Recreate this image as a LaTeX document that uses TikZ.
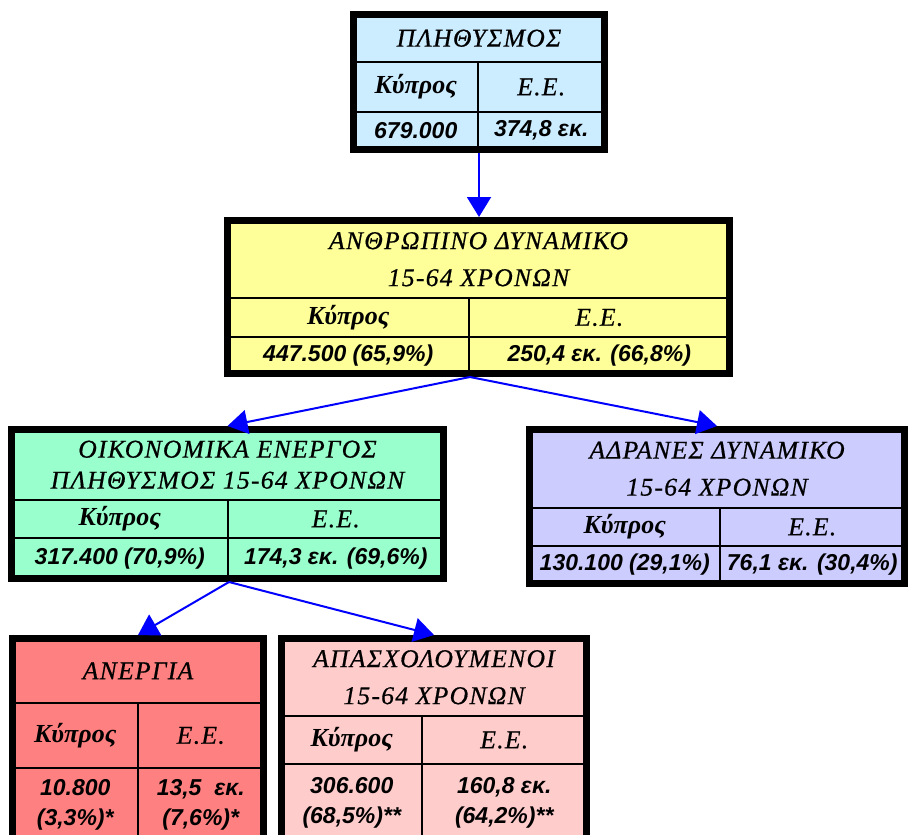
\documentclass[tikz,border=0pt]{standalone}
\usepackage{fontspec}
\setmainfont{Liberation Serif}
\newfontfamily\headfont[LetterSpace=5,FakeBold=0.6]{Liberation Serif}
\newfontfamily\numfont{Liberation Sans}
\usetikzlibrary{fit,arrows.meta}
\definecolor{popblue}{RGB}{204,236,255}
\definecolor{humyellow}{RGB}{255,255,153}
\definecolor{ecogreen}{RGB}{153,255,204}
\definecolor{inalilac}{RGB}{204,204,255}
\definecolor{unered}{RGB}{255,128,128}
\definecolor{emppink}{RGB}{255,204,204}
\definecolor{arrowblue}{RGB}{0,0,255}
\newcommand\cellnode[6][cell]{
  \node[
    #1,
    fit={(#2) (#3)},
    label={[#4]center:{#5}}] (#6) {};
}

\begin{document}
\begin{tikzpicture}[
    x=0.5pt,y=-0.5pt,
    cell/.style={draw=black, line width=1pt, inner sep=0pt, fill=#1},
    cell/.default=white,
    frame/.style={draw=black, line width=3.5pt, inner sep=0pt},
    headtext/.style={font={\headfont\itshape\fontsize{12.8}{18.5}\selectfont}, align=center},
    headtight/.style={headtext, font={\headfont\itshape\fontsize{12.8}{15.5}\selectfont}},
    keytext/.style={font={\bfseries\itshape\fontsize{13}{15}\selectfont}},
    numtext/.style={font={\numfont\bfseries\itshape\fontsize{11.5}{15}\selectfont}, align=center},
    link/.style={draw=arrowblue, line width=1pt, -{Triangle[length=10pt,width=12pt]}}]

    \useasboundingbox (0,0) rectangle (908,834);
    \clip (0,0) rectangle (908,834);

    % population
    \cellnode[cell=popblue]{353.5,14.5}{604.5,62}{headtext}{ΠΛΗΘΥΣΜΟΣ}{pop-h}
    \cellnode[cell=popblue]{353.5,62}{478,112}{keytext}{Κύπρος}{pop-kc}
    \cellnode[cell=popblue]{478,62}{604.5,112}{headtext}{Ε.Ε.}{pop-ke}
    \cellnode[cell=popblue]{353.5,112}{478,149.5}{numtext}{679.000}{pop-vc}
    \cellnode[cell=popblue]{478,112}{604.5,149.5}{numtext}{374,8 εκ.}{pop-ve}
    \node[frame, fit={(353.5,14.5) (604.5,149.5)}] (pop) {};

    % human potential
    \cellnode[cell=humyellow]{227.5,220.5}{729.5,298}{headtext}{ΑΝΘΡΩΠΙΝΟ ΔΥΝΑΜΙΚΟ\\15-64 ΧΡΟΝΩΝ}{hum-h}
    \cellnode[cell=humyellow]{227.5,298}{469,337}{keytext}{Κύπρος}{hum-kc}
    \cellnode[cell=humyellow]{469,298}{729.5,337}{headtext}{Ε.Ε.}{hum-ke}
    \cellnode[cell=humyellow]{227.5,337}{469,373.5}{numtext}{447.500 (65,9\%)}{hum-vc}
    \cellnode[cell=humyellow]{469,337}{729.5,373.5}{numtext}{250,4 εκ. (66,8\%)}{hum-ve}
    \node[frame, fit={(227.5,220.5) (729.5,373.5)}] (hum) {};

    % economically active
    \cellnode[cell=ecogreen]{11.5,429.5}{443.5,500}{headtight}{ΟΙΚΟΝΟΜΙΚΑ ΕΝΕΡΓΟΣ\\ΠΛΗΘΥΣΜΟΣ 15-64 ΧΡΟΝΩΝ}{eco-h}
    \cellnode[cell=ecogreen]{11.5,500}{228,538}{keytext}{Κύπρος}{eco-kc}
    \cellnode[cell=ecogreen]{228,500}{443.5,538}{headtext}{Ε.Ε.}{eco-ke}
    \cellnode[cell=ecogreen]{11.5,538}{228,578.5}{numtext}{317.400 (70,9\%)}{eco-vc}
    \cellnode[cell=ecogreen]{228,538}{443.5,578.5}{numtext}{174,3 εκ. (69,6\%)}{eco-ve}
    \node[frame, fit={(11.5,429.5) (443.5,578.5)}] (eco) {};

    % inactive
    \cellnode[cell=inalilac]{529.5,429.5}{904.5,508}{headtext}{ΑΔΡΑΝΕΣ ΔΥΝΑΜΙΚΟ\\15-64 ΧΡΟΝΩΝ}{ina-h}
    \cellnode[cell=inalilac]{529.5,508}{720,546}{keytext}{Κύπρος}{ina-kc}
    \cellnode[cell=inalilac]{720,508}{904.5,546}{headtext}{Ε.Ε.}{ina-ke}
    \cellnode[cell=inalilac]{529.5,546}{720,583.5}{numtext}{130.100 (29,1\%)}{ina-vc}
    \cellnode[cell=inalilac]{720,546}{904.5,583.5}{numtext}{76,1 εκ. (30,4\%)}{ina-ve}
    \node[frame, fit={(529.5,429.5) (904.5,583.5)}] (ina) {};

    % unemployment
    \cellnode[cell=unered]{12.5,638.5}{263.5,703}{headtext}{ΑΝΕΡΓΙΑ}{une-h}
    \cellnode[cell=unered]{12.5,703}{138,768}{keytext}{Κύπρος}{une-kc}
    \cellnode[cell=unered]{138,703}{263.5,768}{headtext}{Ε.Ε.}{une-ke}
    \cellnode[cell=unered]{12.5,768}{138,841.5}{numtext}{10.800\\(3,3\%)*}{une-vc}
    \cellnode[cell=unered]{138,768}{263.5,841.5}{numtext}{13,5\ \ εκ.\\(7,6\%)*}{une-ve}
    \node[frame, fit={(12.5,638.5) (263.5,841.5)}] (une) {};

    % employed
    \cellnode[cell=emppink]{281.5,638.5}{586.5,716}{headtext}{ΑΠΑΣΧΟΛΟΥΜΕΝΟΙ\\15-64 ΧΡΟΝΩΝ}{emp-h}
    \cellnode[cell=emppink]{281.5,716}{422,764}{keytext}{Κύπρος}{emp-kc}
    \cellnode[cell=emppink]{422,716}{586.5,764}{headtext}{Ε.Ε.}{emp-ke}
    \cellnode[cell=emppink]{281.5,764}{422,841.5}{numtext}{306.600\\(68,5\%)**}{emp-vc}
    \cellnode[cell=emppink]{422,764}{586.5,841.5}{numtext}{160,8 εκ.\\(64,2\%)**}{emp-ve}
    \node[frame, fit={(281.5,638.5) (586.5,841.5)}] (emp) {};

    \draw[link] (pop-vc.south east |- pop.south) -- (pop-vc.south east |- hum.north);
    \draw[link] (hum-vc.south east |- hum.south) -- (eco.north);
    \draw[link] (hum-vc.south east |- hum.south) -- (ina.north);
    \draw[link] (eco-vc.south east |- eco.south) -- (une.north);
    \draw[link] (eco-vc.south east |- eco.south) -- (emp.north);

\end{tikzpicture}
\end{document}
